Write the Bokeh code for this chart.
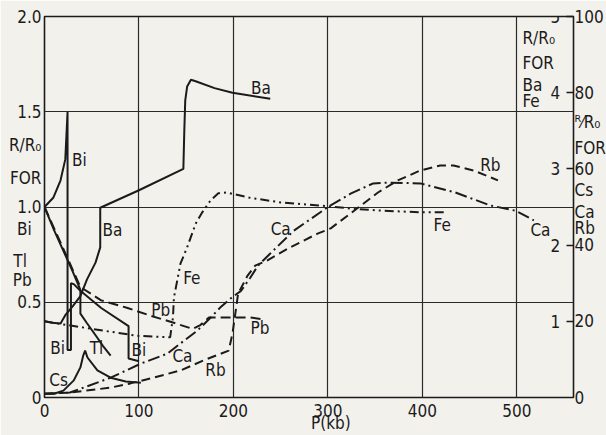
from bokeh.plotting import figure
from bokeh.models import Range1d, LinearAxis, FixedTicker, Label
from bokeh.embed import file_html
from bokeh.resources import INLINE

# ---- data (P in kb) ----
# left scale (0-2): Bi, Tl, Pb
bi_p = [0, 9.5, 17, 22, 24.4, 24.4, 28, 28, 31, 38, 60, 89, 89, 100]
bi_r = [1.0, 1.05, 1.14, 1.25, 1.5, 0.25, 0.25, 0.6, 0.595, 0.56, 0.47, 0.375, 0.205, 0.19]
tl_p = [0, 10, 20, 30, 38, 38, 45, 55, 62, 70]
tl_r = [1.0, 0.88, 0.77, 0.66, 0.565, 0.44, 0.39, 0.32, 0.27, 0.22]
pb_p = [0, 20, 38, 60, 88, 112, 135, 157, 165, 174, 200, 218, 231]
pb_r = [1.0, 0.78, 0.58, 0.51, 0.47, 0.43, 0.395, 0.36, 0.38, 0.42, 0.42, 0.42, 0.41]
# inner right scale (0-5): Ba, Fe
ba_p = [0, 8, 17, 22, 30, 38, 45, 54, 59, 59, 100, 147, 148, 149, 151, 155, 160, 180, 199, 239]
ba_r = [1.0, 0.98, 0.97, 1.08, 1.2, 1.33, 1.55, 1.77, 1.97, 2.49, 2.72, 3.0, 3.5, 3.9, 4.08, 4.17, 4.15, 4.06, 4.0, 3.92]
fe_p = [0, 14, 98, 133, 136, 137, 144, 151, 160, 167, 176, 184, 193, 218, 250, 300, 324, 359, 401, 423]
fe_r = [1.0, 0.97, 0.81, 0.79, 1.05, 1.31, 1.76, 1.97, 2.28, 2.43, 2.59, 2.68, 2.69, 2.62, 2.56, 2.51, 2.48, 2.45, 2.43, 2.43]
# outer right scale (0-100): Cs, Ca, Rb
cs_p = [0, 10, 20, 31, 38, 41, 43, 45.5, 56, 70, 86, 102]
cs_r = [1.0, 1.0, 1.8, 4.5, 7.9, 11.0, 12.3, 10.5, 7.1, 5.2, 4.2, 3.9]
ca_p = [0, 27, 70, 102, 130, 144, 162, 176, 186, 197, 208, 218, 226, 239, 264, 300, 324, 348, 366, 398, 435, 472, 499, 518]
ca_r = [1.0, 1.3, 5.2, 8.9, 11.5, 14.2, 17.6, 21, 23.6, 26, 28, 31.5, 34.6, 37.8, 43.8, 50, 53.5, 56.2, 56.4, 56.2, 53.8, 50.4, 49, 46.5]
rb_p = [0, 27.5, 70, 91, 112, 144, 168, 195, 199, 202, 205, 215, 223, 236, 260, 289, 303, 324, 353, 374, 398, 419, 433, 454, 480]
rb_r = [1.0, 1.3, 2.6, 3.7, 5.0, 7.1, 9.7, 12.3, 16.8, 22, 27.3, 32, 34.6, 36, 39.4, 43, 44.4, 48.3, 53.8, 57, 59.6, 60.9, 60.9, 59.6, 57]

x_ticks = [0, 100, 200, 300, 400, 500]
y_ticks = [0, 0.5, 1.0, 1.5, 2.0]
y_tick_labels = {0: "0", 0.5: "0.5", 1.0: "1.0", 1.5: "1.5", 2.0: "2.0"}
# notes written beside the left scale
left_note_y = [1.323, 1.15, 0.885, 0.718, 0.615]
left_note_t = ["R/R₀", "FOR", "Bi\u00a0\u00a0", "Tl\u00a0\u00a0\u00a0", "Pb\u00a0\u00a0"]
inner_ticks = [1, 2, 3, 4, 5]
outer_ticks = [0, 20, 40, 60, 80, 100]
outer_note_y = [72.2, 65.4, 54.4, 48.6, 44.4]
outer_note_t = ["ᴿ⁄R₀", "FOR", "Cs", "Ca", "Rb"]

FONT = "DejaVu Sans Condensed"
FS = "17px"
INK = "#1b1b1b"
BG = "#f3f1ec"

p = figure(frame_width=529, frame_height=381, x_range=Range1d(0, 560), y_range=Range1d(0, 2),
           output_backend="svg", toolbar_location=None,
           min_border_left=44, min_border_right=33, min_border_top=16, min_border_bottom=38,
           background_fill_color=BG, border_fill_color=BG)
p.extra_y_ranges = {"bafe": Range1d(0, 5), "alk": Range1d(0, 100)}
p.outline_line_color = INK
p.outline_line_width = 1.6

p.xaxis.ticker = FixedTicker(ticks=x_ticks)
ly = dict(y_tick_labels)
ly.update({y: t for y, t in zip(left_note_y, left_note_t)})
p.yaxis.ticker = FixedTicker(ticks=y_ticks + left_note_y)
p.yaxis.major_label_overrides = ly
for ax in (p.xaxis[0], p.yaxis[0]):
    ax.axis_line_color = None
    ax.major_tick_line_color = None
    ax.minor_tick_line_color = None
    ax.major_tick_in = 0
    ax.major_tick_out = 0
    ax.minor_tick_in = 0
    ax.minor_tick_out = 0
    ax.major_label_text_font = FONT
    ax.major_label_text_font_size = FS
    ax.major_label_text_color = INK
p.yaxis.major_label_standoff = 3
p.xaxis.major_label_standoff = 6
p.xaxis.axis_label = "\u00a0" * 9 + "P(kb)"
p.xaxis.axis_label_text_font = FONT
p.xaxis.axis_label_text_font_size = FS
p.xaxis.axis_label_text_font_style = "normal"
p.xaxis.axis_label_text_color = INK
p.xaxis.axis_label_standoff = -7

ro = {v: str(v) for v in outer_ticks}
ro.update({y: t for y, t in zip(outer_note_y, outer_note_t)})
rax = LinearAxis(y_range_name="alk",
                 ticker=FixedTicker(ticks=outer_ticks + outer_note_y, minor_ticks=outer_ticks[1:]),
                 major_label_overrides=ro)
rax.axis_line_color = None
rax.major_tick_line_color = None
rax.major_tick_in = 0
rax.major_tick_out = 0
rax.minor_tick_in = 7
rax.minor_tick_out = 0
rax.minor_tick_line_color = INK
rax.minor_tick_line_width = 1.3
rax.major_label_text_font = FONT
rax.major_label_text_font_size = FS
rax.major_label_text_color = INK
rax.major_label_standoff = 1
p.add_layout(rax, "right")

p.xgrid.ticker = FixedTicker(ticks=[100, 200, 300, 400, 500])
p.ygrid.ticker = FixedTicker(ticks=[0.5, 1.0, 1.5])
p.xgrid.grid_line_color = "#2a2a2a"
p.ygrid.grid_line_color = "#2a2a2a"
p.xgrid.grid_line_width = 1.2
p.ygrid.grid_line_width = 1.2

# curves
p.line(bi_p, bi_r, line_color=INK, line_width=2)
p.line(tl_p, tl_r, line_color=INK, line_width=2)
p.line(pb_p, pb_r, line_color=INK, line_width=2, line_dash="10 5")
p.line(ba_p, ba_r, line_color=INK, line_width=2, y_range_name="bafe")
p.line(fe_p, fe_r, line_color=INK, line_width=2, line_dash="9 4 2 4 2 4", y_range_name="bafe")
p.line(cs_p, cs_r, line_color=INK, line_width=2, y_range_name="alk")
p.line(ca_p, ca_r, line_color=INK, line_width=2, line_dash="12 4 2 4", y_range_name="alk")
p.line(rb_p, rb_r, line_color=INK, line_width=2, line_dash="9 5", y_range_name="alk")

def lab(x, y, t, align="center", rng="default"):
    p.add_layout(Label(x=x, y=y, text=t, text_align=align, text_baseline="middle",
                       text_font=FONT, text_font_size=FS, text_color=INK,
                       y_range_name=rng))

# curve labels
lab(37, 1.245, "Bi")
lab(72, 0.877, "Ba")
lab(229, 1.627, "Ba")
lab(156, 0.625, "Fe")
lab(123, 0.457, "Pb")
lab(228, 0.367, "Pb")
lab(14, 0.262, "Bi")
lab(55, 0.262, "Tl")
lab(100, 0.247, "Bi")
lab(15, 0.09, "Cs")
lab(146, 0.22, "Ca")
lab(181, 0.142, "Rb")
lab(250, 0.887, "Ca")
lab(472, 1.218, "Rb")
lab(421, 0.903, "Fe")
lab(525, 0.877, "Ca")

# inner right notes
lab(506, 1.885, "R/R₀", align="left")
lab(506, 1.756, "FOR", align="left")
lab(506, 1.643, "Ba", align="left")
lab(506, 1.554, "Fe", align="left")
for t in inner_ticks:
    lab(546, t, str(t), align="right", rng="bafe")

open("out.html", "w").write(file_html(p, INLINE))
